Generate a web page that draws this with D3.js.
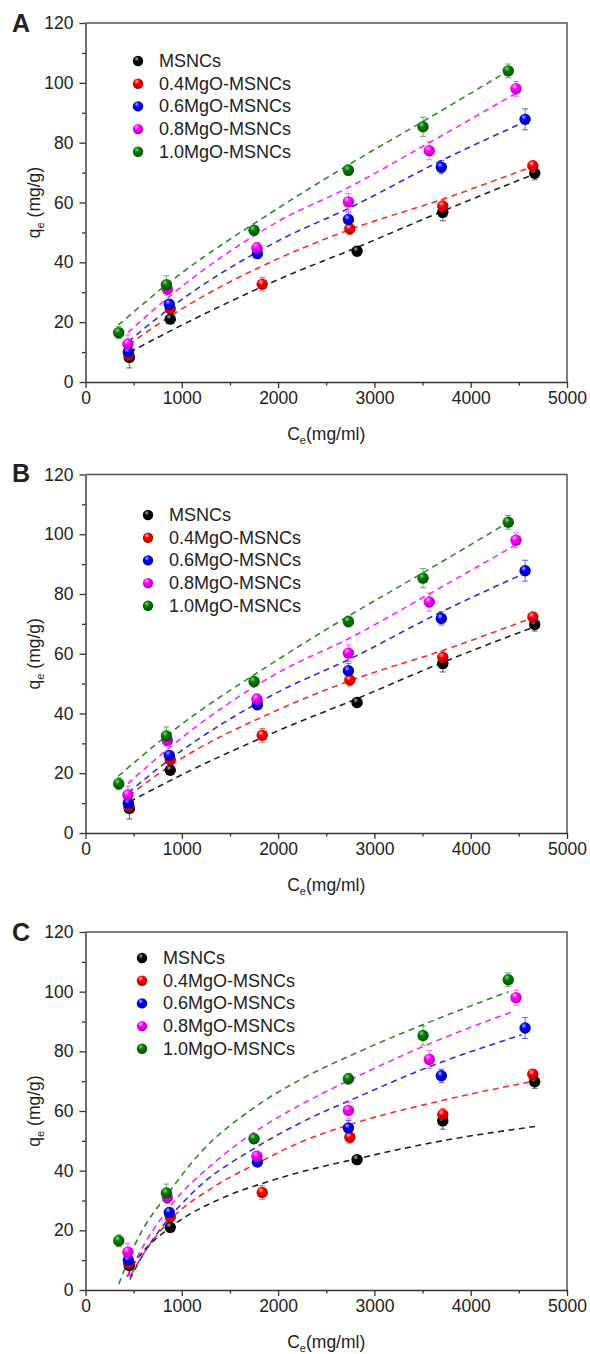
<!DOCTYPE html>
<html><head><meta charset="utf-8">
<script src="https://cdn.jsdelivr.net/npm/d3@7"></script>
<style>body{margin:0;background:#fff}svg{display:block}text{font-family:"Liberation Sans",Arial,sans-serif;fill:#222}</style>
</head><body>
<script>
// ---------- data ----------
const seriesNames = ["MSNCs","0.4MgO-MSNCs","0.6MgO-MSNCs","0.8MgO-MSNCs","1.0MgO-MSNCs"];
const seriesColors = ["#000000","#ff0000","#0000ff","#ff00ff","#008000"];
const lineColors = ["#222222","#ff2a2a","#2a2aff","#ff22ff","#2e8b2e"];

const ceMSNCs = [455, 880, 2820, 3710, 4665];
const qMSNCs  = [8.2, 21.0, 43.7, 56.7, 69.8];
const errMSNCs= [3.5, 1.2, 1.3, 2.8, 2.2];
const ce04 = [450, 880, 1835, 2745, 3710, 4645];
const q04  = [9.0, 24.5, 32.7, 51.2, 58.8, 72.3];
const err04= [1.5, 1.5, 2.3, 2.0, 2.0, 1.5];
const ce06 = [445, 870, 1785, 2730, 3695, 4565];
const q06  = [10.0, 26.0, 42.9, 54.3, 71.8, 87.8];
const err06= [2.0, 1.5, 1.3, 2.5, 2.2, 3.5];
const ce08 = [440, 850, 1780, 2730, 3570, 4470];
const q08  = [12.7, 31.0, 44.8, 60.2, 77.3, 98.0];
const err08= [3.0, 2.0, 1.8, 2.8, 3.0, 2.5];
const ce10 = [345, 840, 1750, 2730, 3505, 4390];
const q10  = [16.5, 32.5, 50.7, 70.8, 85.3, 104.0];
const err10= [2.0, 3.0, 1.5, 1.8, 3.2, 2.3];

// fitted curves (panel A)
const fitA_ce = [
  [460, 1000, 2020, 2820, 3700, 4660],
  [450, 880, 2020, 2750, 3700, 4640],
  [445, 870, 2020, 2730, 3695, 4565],
  [440, 850, 2020, 2730, 3570, 4470],
  [340, 840, 2020, 2725, 3500, 4390]];
const fitA_q = [
  [10, 19, 34.5, 45, 57, 69.5],
  [12.5, 22, 41.5, 51, 61, 72],
  [13.5, 24.5, 47.5, 58, 74, 87],
  [16.5, 28, 54, 65, 80, 96.5],
  [19, 32.5, 58.5, 72.5, 87, 104]];
// panel B
const fitB_ce = [
  [460, 1000, 2020, 2820, 3700, 4660],
  [450, 880, 2020, 2750, 3700, 4640],
  [445, 870, 2020, 2730, 3695, 4565],
  [440, 850, 2020, 2730, 3570, 4470],
  [340, 840, 2020, 2725, 3500, 4390]];
const fitB_q = [
  [10.5, 19.5, 34.5, 45, 57, 69],
  [12.5, 22.5, 41.5, 51, 61, 72],
  [13.5, 24.5, 47.5, 58, 74, 87],
  [16.5, 28, 54, 65, 80, 96.5],
  [19, 32.5, 58.5, 72.5, 87, 104]];
// panel C
const fitC_ce = [
  [480, 600, 880, 1470, 1815, 2230, 2820, 3700, 4668],
  [470, 600, 880, 1330, 1815, 2230, 2750, 3570, 4650],
  [460, 600, 780, 1124, 1781, 2230, 2850, 3544, 4527],
  [432, 605, 916, 1331, 1781, 2230, 2850, 3570, 4461],
  [346, 519, 882, 1193, 1746, 2230, 2850, 3510, 4391]];
const fitC_q = [
  [8, 13, 21, 31.5, 35.5, 39.5, 44, 50, 54.8],
  [5, 12, 23.5, 34.5, 43, 49.5, 55.5, 62.5, 70],
  [3.5, 12, 20.5, 33, 48, 56, 65, 74.5, 85.5],
  [4.5, 15, 29.5, 42.5, 53.5, 62, 72, 82.5, 93.6],
  [2, 15.6, 33.4, 46, 61, 70.5, 80, 89, 100]];

const xTicks = [0, 1000, 2000, 3000, 4000, 5000];
const yTicks = [0, 20, 40, 60, 80, 100, 120];
const panelLetters = ["A", "B", "C"];

// ---------- drawing ----------
const W = 590, H = 1354;
const svg = d3.select("body").append("svg").attr("width", W).attr("height", H);
const defs = svg.append("defs");
const hi = ["#aaaaaa","#ffbbbb","#b0b0ff","#ffc0ff","#90d090"];
const dark = ["#000000","#b00000","#0000a0","#b000b0","#004d00"];
seriesColors.forEach((c, i) => {
  const g = defs.append("radialGradient").attr("id", "ball" + i)
    .attr("cx", "38%").attr("cy", "30%").attr("r", "70%");
  g.append("stop").attr("offset", "0%").attr("stop-color", hi[i]);
  g.append("stop").attr("offset", "35%").attr("stop-color", c);
  g.append("stop").attr("offset", "100%").attr("stop-color", dark[i]);
});

const pts = [
  [ceMSNCs, qMSNCs, errMSNCs],
  [ce04, q04, err04],
  [ce06, q06, err06],
  [ce08, q08, err08],
  [ce10, q10, err10]];

const panels = [
  {top: 23, bottom: 382, fitCe: fitA_ce, fitQ: fitA_q, legX: 138, legY: 61, letterY: 32},
  {top: 474.5, bottom: 833, fitCe: fitB_ce, fitQ: fitB_q, legX: 148, legY: 515, letterY: 482},
  {top: 932, bottom: 1290, fitCe: fitC_ce, fitQ: fitC_q, legX: 142, legY: 958, letterY: 941}];

const left = 85.5, right = 567;

panels.forEach((p, pi) => {
  const g = svg.append("g");
  const x = d3.scaleLinear().domain([0, 5000]).range([left, right]);
  const y = d3.scaleLinear().domain([0, 120]).range([p.bottom, p.top]);

  g.append("path").attr("d", `M${left},${p.top}H${right}V${p.bottom}`)
    .attr("fill", "none").attr("stroke", "#555").attr("stroke-width", 1.5);

  const xa = g.append("g").attr("transform", `translate(0,${p.bottom})`)
    .call(d3.axisBottom(x).tickValues(xTicks).tickSize(6).tickSizeOuter(0).tickPadding(4).tickFormat(d3.format("d")));
  const xm = g.append("g").attr("transform", `translate(0,${p.bottom})`)
    .call(d3.axisBottom(x).tickValues([500,1500,2500,3500,4500]).tickSize(3.5).tickSizeOuter(0).tickFormat(""));
  const ya = g.append("g").attr("transform", `translate(${left},0)`)
    .call(d3.axisLeft(y).tickValues(yTicks).tickSize(6).tickSizeOuter(0).tickPadding(6));
  const ym = g.append("g").attr("transform", `translate(${left},0)`)
    .call(d3.axisLeft(y).tickValues([10,30,50,70,90,110]).tickSize(3.5).tickSizeOuter(0).tickFormat(""));
  [xa, xm, ya, ym].forEach(a => {
    a.select(".domain").attr("stroke", "#333").attr("stroke-width", 1.4);
    a.selectAll(".tick line").attr("stroke", "#333").attr("stroke-width", 1.3);
    a.selectAll("text").attr("font-size", 17.5).attr("fill", "#222")
      .attr("font-family", '"Liberation Sans",Arial,sans-serif');
  });
  xm.select(".domain").remove(); ym.select(".domain").remove();

  const line = d3.line().x(d => x(d[0])).y(d => y(d[1])).curve(d3.curveMonotoneX);
  p.fitCe.forEach((ces, si) => {
    const data = ces.map((c, k) => [c, p.fitQ[si][k]]);
    g.append("path").attr("d", line(data)).attr("fill", "none")
      .attr("stroke", lineColors[si]).attr("stroke-width", 1.6)
      .attr("stroke-dasharray", "6,4.5");
  });

  pts.forEach((s, si) => {
    const [ces, qs, errs] = s;
    ces.forEach((c, k) => {
      const cx = x(c), y1 = y(qs[k] - errs[k]), y2 = y(qs[k] + errs[k]);
      g.append("path").attr("d", `M${cx},${y1}V${y2}M${cx-3},${y1}H${cx+3}M${cx-3},${y2}H${cx+3}`)
        .attr("stroke", seriesColors[si]).attr("stroke-opacity", 0.6).attr("stroke-width", 1).attr("fill", "none");
    });
  });
  pts.forEach((s, si) => {
    const [ces, qs] = s;
    g.selectAll(null).data(ces.map((c, k) => [c, qs[k]])).enter().append("circle")
      .attr("cx", d => x(d[0])).attr("cy", d => y(d[1])).attr("r", 5.7)
      .attr("fill", `url(#ball${si})`);
  });

  seriesNames.forEach((n, si) => {
    const ly = p.legY + si * 22.7;
    g.append("circle").attr("cx", p.legX).attr("cy", ly).attr("r", 5.2).attr("fill", `url(#ball${si})`);
    g.append("text").attr("x", p.legX + 21).attr("y", ly).attr("dominant-baseline", "central")
      .attr("font-size", 18).text(n);
  });

  const yt = g.append("text").attr("transform", `translate(40,${(p.top + p.bottom) / 2}) rotate(-90)`)
    .attr("text-anchor", "middle").attr("font-size", 17.5);
  yt.append("tspan").text("q");
  yt.append("tspan").attr("font-size", 11).attr("dy", 4).text("e");
  yt.append("tspan").attr("dy", -4).text(" (mg/g)");

  const xt = g.append("text").attr("x", (left + right) / 2).attr("y", p.bottom + 58)
    .attr("text-anchor", "middle").attr("font-size", 17.5);
  xt.append("tspan").text("C");
  xt.append("tspan").attr("font-size", 11).attr("dy", 4).text("e");
  xt.append("tspan").attr("dy", -4).text("(mg/ml)");

  g.append("text").attr("x", 12).attr("y", p.letterY).attr("font-size", 25)
    .attr("font-weight", "bold").attr("fill", "#000").text(panelLetters[pi]);
});
</script>
</body></html>
